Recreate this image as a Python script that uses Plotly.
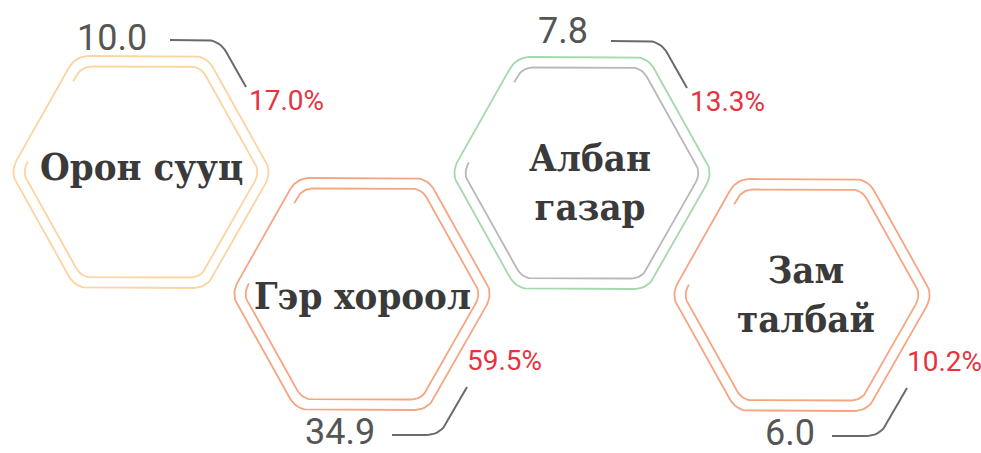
import numpy as np
import plotly.graph_objects as go

# ---- data ----
categories = ["Орон сууц", "Гэр хороол", "Албан<br>газар", "Зам<br>талбай"]
values = [10.0, 34.9, 7.8, 6.0]
shares = [17.0, 59.5, 13.3, 10.2]

# ---- layout (pixel space) ----
W, H = 981, 453
centers = [(141, 172), (362, 294), (582, 173), (802, 295)]
outer_col = ["#fdd3a0", "#f6a581", "#a3d9ad", "#f6a581"]
inner_col = ["#fdd3a0", "#f6a581", "#b8b8b8", "#f6a581"]
text_pos = [(141, 166), (362, 295), (590, 182), (806, 294)]
value_dy = [0, 0, -8, 0]
top_side = [True, False, True, False]  # value label above (True) or below

RX, RY = 131, 116
RXI, RYI = 119, 105.5


def qbez(p0, c, p1, n=10):
    t = np.linspace(0, 1, n)[:, None]
    p0, c, p1 = map(np.asarray, (p0, c, p1))
    return (1 - t) ** 2 * p0 + 2 * (1 - t) * t * c + t ** 2 * p1


def hex_vertices(cx, cy, rx, ry):
    return [np.array(v, float) for v in [
        (cx - rx / 2, cy - ry), (cx + rx / 2, cy - ry), (cx + rx, cy),
        (cx + rx / 2, cy + ry), (cx - rx / 2, cy + ry), (cx - rx, cy)]]


def corner(prev, v, nxt, d):
    a = v + (prev - v) / np.linalg.norm(prev - v) * d
    b = v + (nxt - v) / np.linalg.norm(nxt - v) * d
    return qbez(a, v, b)


def closed_hex(cx, cy, rx, ry, d):
    V = hex_vertices(cx, cy, rx, ry)
    pts = []
    for i in range(6):
        pts.append(corner(V[i - 1], V[i], V[(i + 1) % 6], d))
    pts.append(pts[0][:1])
    return np.vstack(pts)


def open_hex(cx, cy, rx, ry, d, t0=0.14, t1=0.90):
    V = hex_vertices(cx, cy, rx, ry)
    TL, L = V[0], V[5]
    s = TL + (L - TL) * t0
    e = TL + (L - TL) * t1
    pts = [s[None, :]]
    for i in range(6):
        pts.append(corner(V[i - 1], V[i], V[(i + 1) % 6], d))
    pts.append(e[None, :])
    return np.vstack(pts)


def connector(p0, bend, p1, d=14):
    p0, bend, p1 = map(lambda p: np.array(p, float), (p0, bend, p1))
    return np.vstack([p0[None, :], corner(p0, bend, p1, d), p1[None, :]])


fig = go.Figure()
ann = []
slope = (RX / 2) / RY
for i, (cx, cy) in enumerate(centers):
    o = closed_hex(cx, cy, RX, RY, 14)
    fig.add_trace(go.Scatter(x=o[:, 0], y=o[:, 1], mode="lines",
                             line=dict(color=outer_col[i], width=1.8),
                             hoverinfo="skip", showlegend=False))
    n = open_hex(cx, cy, RXI, RYI, 11)
    fig.add_trace(go.Scatter(x=n[:, 0], y=n[:, 1], mode="lines",
                             line=dict(color=inner_col[i], width=1.8),
                             hoverinfo="skip", showlegend=False))
    if top_side[i]:
        p0 = (cx + 29, cy - 132)
        p1 = (cx + 105, cy - 85)
        bend = (p1[0] - (p1[1] - p0[1]) * slope, p0[1])
        vx, vy = cx + 8, cy - 134 + value_dy[i]
        px, py = cx + 106, cy - 72
    else:
        p0 = (cx + 105, cy + 93)
        p1 = (cx + 30, cy + 141)
        bend = (p0[0] - (p1[1] - p0[1]) * slope, p1[1])
        vx, vy = cx + 15, cy + 138 + value_dy[i]
        px, py = cx + 103, cy + 66
    c = connector(p0, bend, p1)
    fig.add_trace(go.Scatter(x=c[:, 0], y=c[:, 1], mode="lines",
                             line=dict(color="#6a6a6a", width=2),
                             hoverinfo="skip", showlegend=False))
    ann.append(dict(x=vx, y=vy, text=f"{values[i]:.1f}", xanchor="right",
                    yanchor="middle", showarrow=False,
                    font=dict(family="Roboto", size=36, color="#555555")))
    ann.append(dict(x=px, y=py, text=f"{shares[i]:.1f}%", xanchor="left",
                    yanchor="middle", showarrow=False,
                    font=dict(family="Roboto", size=28, color="#e8333f")))
    tx, ty = text_pos[i]
    ann.append(dict(x=tx, y=ty, text=f"<b>{categories[i]}</b>", xanchor="center",
                    yanchor="middle", showarrow=False,
                    font=dict(family="DejaVu Serif Condensed, DejaVu Serif", size=38,
                              color="#3a3a3a")))

fig.update_layout(
    width=W, height=H, margin=dict(l=0, r=0, t=0, b=0),
    paper_bgcolor="white", plot_bgcolor="white",
    xaxis=dict(range=[0, W], visible=False, fixedrange=True),
    yaxis=dict(range=[H, 0], visible=False, fixedrange=True),
    annotations=ann,
)
fig.write_html("out.html", config={"displayModeBar": False},
               post_script="document.body.style.margin='0';"
                           "document.body.style.overflow='hidden';")
